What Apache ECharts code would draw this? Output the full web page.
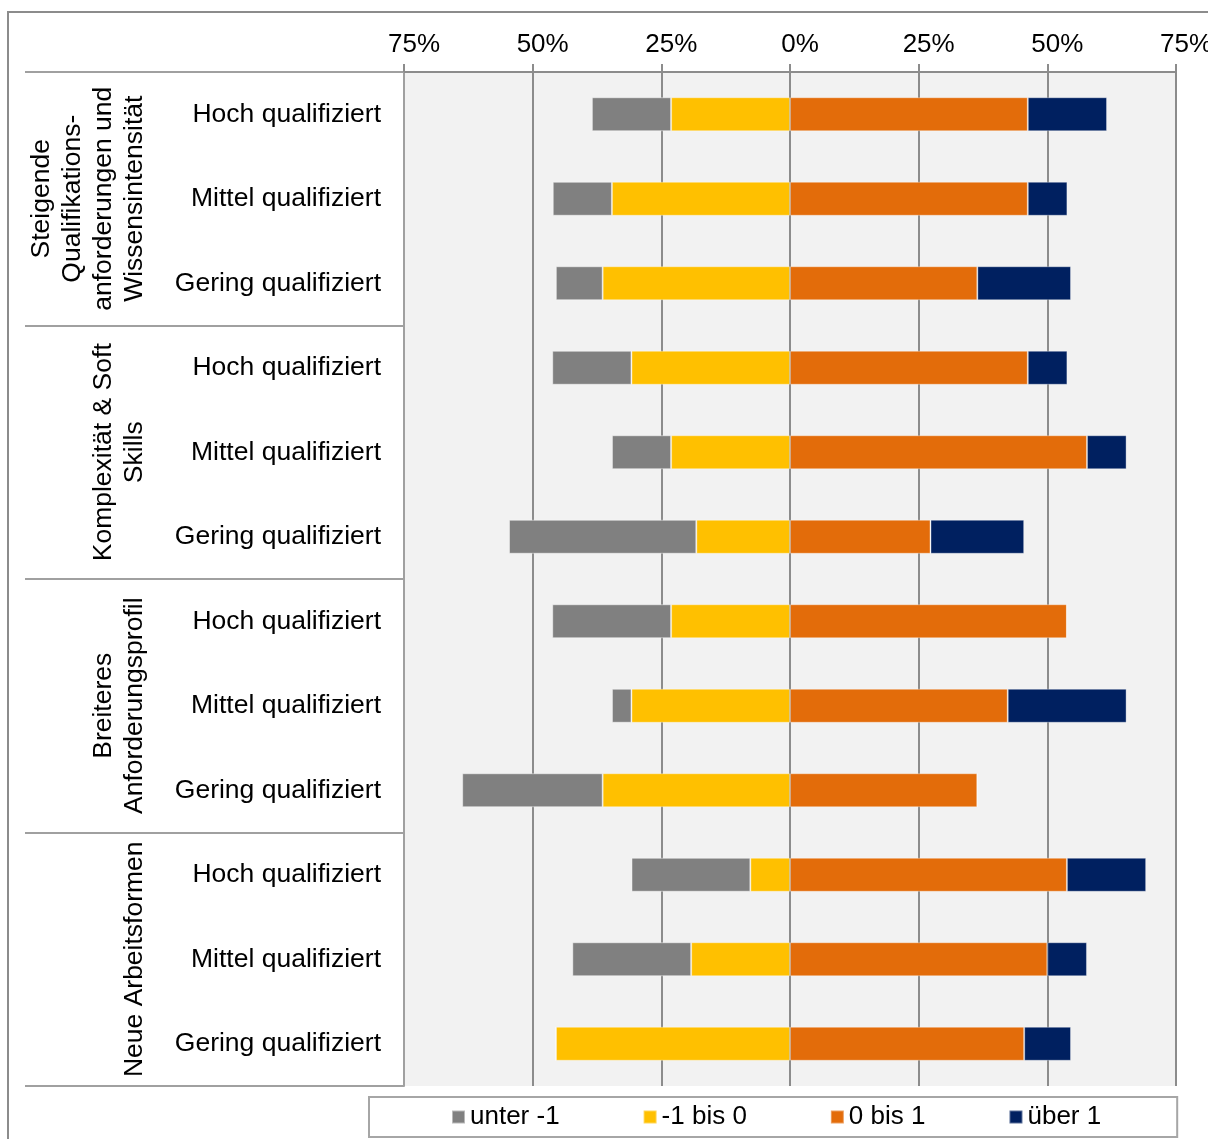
<!DOCTYPE html>
<html>
<head>
<meta charset="utf-8">
<script src="https://cdn.jsdelivr.net/npm/echarts@6/dist/echarts.min.js"></script>
<style>
  html, body { margin: 0; padding: 0; background: #ffffff; }
  #chart { width: 1208px; height: 1139px; }
</style>
</head>
<body>
<div id="chart"></div>
<script>
// Skill groups (outer category level) and qualification levels (inner level)
const groups = [
  'Steigende\nQualifikations-\nanforderungen und\nWissensintensität',
  'Komplexität & Soft\nSkills',
  'Breiteres\nAnforderungsprofil',
  'Neue Arbeitsformen'
];
const levels = [
  'Hoch qualifiziert', 'Mittel qualifiziert', 'Gering qualifiziert',
  'Hoch qualifiziert', 'Mittel qualifiziert', 'Gering qualifiziert',
  'Hoch qualifiziert', 'Mittel qualifiziert', 'Gering qualifiziert',
  'Hoch qualifiziert', 'Mittel qualifiziert', 'Gering qualifiziert'
];

// Shares in percent, one value per row (top to bottom)
const unterMinus1 = [15.4, 11.5, 9.1, 15.4, 11.5, 36.4, 23.1, 3.8, 27.3, 23.1, 23.1, 0];
const minus1bis0  = [23.1, 34.6, 36.4, 30.8, 23.1, 18.2, 23.1, 30.8, 36.4, 7.7, 19.2, 45.5];
const null_bis1   = [46.2, 46.2, 36.4, 46.2, 57.7, 27.3, 53.8, 42.3, 36.4, 53.8, 50.0, 45.5];
const ueber1      = [15.4, 7.7, 18.2, 7.7, 7.7, 18.2, 0, 23.1, 0, 15.4, 7.7, 9.1];

const axisTicks = [-75, -50, -25, 0, 25, 50, 75];

const FONT = '"Liberation Sans", Arial, Helvetica, sans-serif';
const GRID_LINE = '#8c8c8c';

const chart = echarts.init(document.getElementById('chart'), null, { renderer: 'canvas' });

const barBase = {
  type: 'bar',
  stack: 'total',
  barWidth: 34,
  yAxisIndex: 0,
  emphasis: { disabled: true }
};

chart.setOption({
  animation: false,
  backgroundColor: '#ffffff',
  textStyle: { fontFamily: FONT },
  graphic: [{
    type: 'rect',
    z: -10,
    silent: true,
    shape: { x: 8, y: 12, width: 1240, height: 1160 },
    style: { fill: 'none', stroke: '#8c8c8c', lineWidth: 2 }
  }],
  grid: {
    left: 404, right: 32, top: 72, bottom: 53,
    outerBoundsMode: 'none',
    show: true, backgroundColor: '#f2f2f2', borderWidth: 0
  },
  legend: {
    data: ['unter -1', '-1 bis 0', '0 bis 1', 'über 1'],
    left: 369, top: 1097,
    padding: [7, 76, 7, 82],
    itemGap: 83,
    itemWidth: 13, itemHeight: 13,
    icon: 'rect',
    backgroundColor: '#ffffff',
    borderColor: '#a6a6a6', borderWidth: 2,
    textStyle: { fontSize: 26, color: '#000', fontFamily: FONT }
  },
  xAxis: {
    type: 'value',
    position: 'top',
    min: axisTicks[0],
    max: axisTicks[axisTicks.length - 1],
    interval: 25,
    axisLine: { show: true, lineStyle: { color: GRID_LINE, width: 2 } },
    axisTick: { show: true, length: 8, lineStyle: { color: GRID_LINE, width: 2 } },
    splitLine: { show: true, lineStyle: { color: GRID_LINE, width: 2 } },
    axisLabel: {
      fontSize: 26, color: '#000', fontFamily: FONT, margin: 14,
      padding: [0, 0, 0, 20],
      hideOverlap: false,
      formatter: v => Math.abs(v) + '%'
    }
  },
  yAxis: [{
    type: 'category',
    data: levels,
    inverse: true,
    position: 'left',
    axisLine: { show: false },
    axisTick: { show: false },
    axisLabel: { interval: 0, fontSize: 26.5, color: '#000', fontFamily: FONT, margin: 23 }
  }, {
    type: 'category',
    data: groups,
    inverse: true,
    position: 'left',
    axisLine: { show: true, lineStyle: { color: '#a0a0a0', width: 2 } },
    axisTick: { show: true, interval: 0, length: 379, lineStyle: { color: '#a0a0a0', width: 2 } },
    axisLabel: {
      interval: 0, rotate: 90, fontSize: 26.5, lineHeight: 31, color: '#000',
      fontFamily: FONT, margin: 254, hideOverlap: false
    }
  }],
  series: [
    Object.assign({}, barBase, {
      name: '-1 bis 0',
      data: minus1bis0.map(v => -v),
      itemStyle: { color: '#FFC000', borderColor: 'rgba(255,255,255,0.35)', borderWidth: 1 }
    }),
    Object.assign({}, barBase, {
      name: 'unter -1',
      data: unterMinus1.map(v => -v),
      itemStyle: { color: '#808080', borderColor: 'rgba(255,255,255,0.45)', borderWidth: 1 }
    }),
    Object.assign({}, barBase, {
      name: '0 bis 1',
      data: null_bis1,
      itemStyle: { color: '#E36C0A', borderColor: 'rgba(255,255,255,0.35)', borderWidth: 1 }
    }),
    Object.assign({}, barBase, {
      name: 'über 1',
      data: ueber1,
      itemStyle: { color: '#002060', borderColor: 'rgba(255,255,255,0.35)', borderWidth: 1 }
    })
  ]
});
</script>
</body>
</html>
